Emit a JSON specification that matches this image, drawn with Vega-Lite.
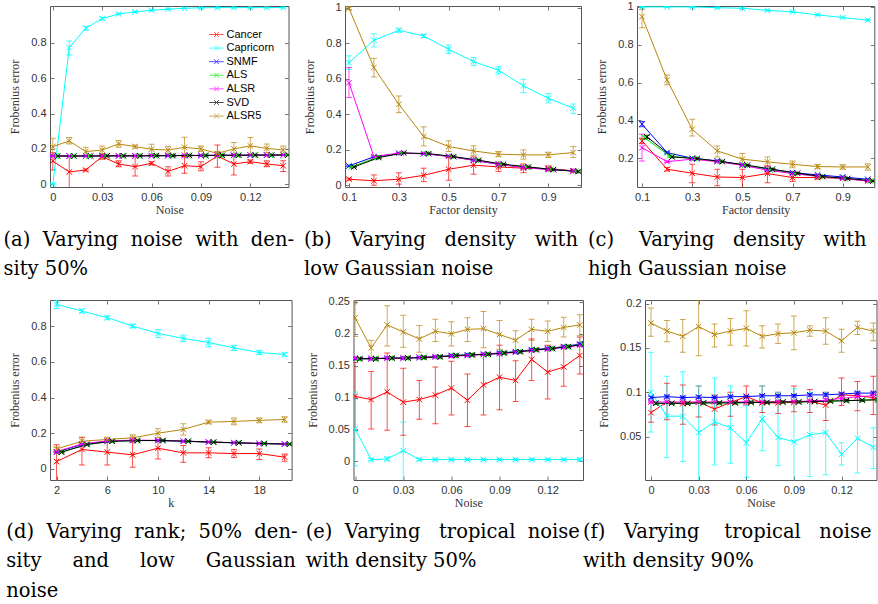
{
"$schema": "https://vega.github.io/schema/vega-lite/v6.json",
"background": "white",
"padding": {"left": 3, "top": 0, "right": 0, "bottom": 0},
"autosize": {"type": "pad"},
"datasets": {
"A": [
{"s":"Cancer","x":0,"y":0.132,"l":0.081,"h":0.179},{"s":"Cancer","x":0.01,"y":0.07,"l":-0.02,"h":0.16},{"s":"Cancer","x":0.02,"y":0.081,"l":0.076,"h":0.087},{"s":"Cancer","x":0.03,"y":0.156,"l":0.141,"h":0.171},{"s":"Cancer","x":0.04,"y":0.115,"l":0.099,"h":0.133},{"s":"Cancer","x":0.05,"y":0.1,"l":0.047,"h":0.156},{"s":"Cancer","x":0.06,"y":0.119,"l":0.109,"h":0.128},{"s":"Cancer","x":0.07,"y":0.073,"l":0.047,"h":0.1},{"s":"Cancer","x":0.08,"y":0.105,"l":0.062,"h":0.156},{"s":"Cancer","x":0.09,"y":0.1,"l":0.077,"h":0.128},{"s":"Cancer","x":0.1,"y":0.16,"l":0.096,"h":0.222},{"s":"Cancer","x":0.11,"y":0.115,"l":0.053,"h":0.171},{"s":"Cancer","x":0.12,"y":0.128,"l":0.119,"h":0.137},{"s":"Cancer","x":0.13,"y":0.115,"l":0.099,"h":0.133},{"s":"Cancer","x":0.14,"y":0.105,"l":0.072,"h":0.133},
{"s":"Capricorn","x":0,"y":0.0,"l":0.0,"h":0.004},{"s":"Capricorn","x":0.01,"y":0.772,"l":0.73,"h":0.81},{"s":"Capricorn","x":0.02,"y":0.881,"l":0.87,"h":0.892},{"s":"Capricorn","x":0.03,"y":0.936,"l":0.93,"h":0.942},{"s":"Capricorn","x":0.04,"y":0.962,"l":0.957,"h":0.967},{"s":"Capricorn","x":0.05,"y":0.974,"l":0.97,"h":0.978},{"s":"Capricorn","x":0.06,"y":0.983,"l":0.98,"h":0.986},{"s":"Capricorn","x":0.07,"y":0.989,"l":0.986,"h":0.992},{"s":"Capricorn","x":0.08,"y":0.994,"l":0.991,"h":0.997},{"s":"Capricorn","x":0.09,"y":0.997,"l":0.995,"h":0.999},{"s":"Capricorn","x":0.1,"y":0.998,"l":0.996,"h":1.0},{"s":"Capricorn","x":0.11,"y":0.998,"l":0.996,"h":1.0},{"s":"Capricorn","x":0.12,"y":0.998,"l":0.996,"h":1.0},{"s":"Capricorn","x":0.13,"y":0.998,"l":0.996,"h":1.0},{"s":"Capricorn","x":0.14,"y":0.998,"l":0.996,"h":1.0},
{"s":"SNMF","x":0,"y":0.16,"l":0.157,"h":0.163},{"s":"SNMF","x":0.01,"y":0.16,"l":0.157,"h":0.163},{"s":"SNMF","x":0.02,"y":0.16,"l":0.157,"h":0.163},{"s":"SNMF","x":0.03,"y":0.161,"l":0.158,"h":0.164},{"s":"SNMF","x":0.04,"y":0.161,"l":0.158,"h":0.164},{"s":"SNMF","x":0.05,"y":0.161,"l":0.158,"h":0.164},{"s":"SNMF","x":0.06,"y":0.162,"l":0.159,"h":0.165},{"s":"SNMF","x":0.07,"y":0.162,"l":0.159,"h":0.165},{"s":"SNMF","x":0.08,"y":0.163,"l":0.16,"h":0.166},{"s":"SNMF","x":0.09,"y":0.163,"l":0.16,"h":0.166},{"s":"SNMF","x":0.1,"y":0.164,"l":0.161,"h":0.167},{"s":"SNMF","x":0.11,"y":0.164,"l":0.161,"h":0.167},{"s":"SNMF","x":0.12,"y":0.165,"l":0.162,"h":0.168},{"s":"SNMF","x":0.13,"y":0.165,"l":0.162,"h":0.168},{"s":"SNMF","x":0.14,"y":0.166,"l":0.163,"h":0.169},
{"s":"ALS","x":0.002,"y":0.16,"l":0.157,"h":0.163},{"s":"ALS","x":0.012,"y":0.16,"l":0.157,"h":0.163},{"s":"ALS","x":0.022,"y":0.16,"l":0.157,"h":0.163},{"s":"ALS","x":0.032,"y":0.161,"l":0.158,"h":0.164},{"s":"ALS","x":0.042,"y":0.161,"l":0.158,"h":0.164},{"s":"ALS","x":0.052,"y":0.161,"l":0.158,"h":0.164},{"s":"ALS","x":0.062,"y":0.162,"l":0.159,"h":0.165},{"s":"ALS","x":0.072,"y":0.162,"l":0.159,"h":0.165},{"s":"ALS","x":0.082,"y":0.163,"l":0.16,"h":0.166},{"s":"ALS","x":0.092,"y":0.163,"l":0.16,"h":0.166},{"s":"ALS","x":0.102,"y":0.164,"l":0.161,"h":0.167},{"s":"ALS","x":0.112,"y":0.164,"l":0.161,"h":0.167},{"s":"ALS","x":0.122,"y":0.165,"l":0.162,"h":0.168},{"s":"ALS","x":0.132,"y":0.165,"l":0.162,"h":0.168},{"s":"ALS","x":0.142,"y":0.166,"l":0.163,"h":0.169},
{"s":"ALSR","x":0,"y":0.16,"l":0.157,"h":0.163},{"s":"ALSR","x":0.01,"y":0.16,"l":0.157,"h":0.163},{"s":"ALSR","x":0.02,"y":0.16,"l":0.157,"h":0.163},{"s":"ALSR","x":0.03,"y":0.161,"l":0.158,"h":0.164},{"s":"ALSR","x":0.04,"y":0.161,"l":0.158,"h":0.164},{"s":"ALSR","x":0.05,"y":0.161,"l":0.158,"h":0.164},{"s":"ALSR","x":0.06,"y":0.162,"l":0.159,"h":0.165},{"s":"ALSR","x":0.07,"y":0.162,"l":0.159,"h":0.165},{"s":"ALSR","x":0.08,"y":0.163,"l":0.16,"h":0.166},{"s":"ALSR","x":0.09,"y":0.163,"l":0.16,"h":0.166},{"s":"ALSR","x":0.1,"y":0.164,"l":0.161,"h":0.167},{"s":"ALSR","x":0.11,"y":0.164,"l":0.161,"h":0.167},{"s":"ALSR","x":0.12,"y":0.165,"l":0.162,"h":0.168},{"s":"ALSR","x":0.13,"y":0.165,"l":0.162,"h":0.168},{"s":"ALSR","x":0.14,"y":0.166,"l":0.163,"h":0.169},
{"s":"SVD","x":0.003,"y":0.16,"l":0.157,"h":0.163},{"s":"SVD","x":0.013,"y":0.16,"l":0.157,"h":0.163},{"s":"SVD","x":0.023,"y":0.16,"l":0.157,"h":0.163},{"s":"SVD","x":0.033,"y":0.161,"l":0.158,"h":0.164},{"s":"SVD","x":0.043,"y":0.161,"l":0.158,"h":0.164},{"s":"SVD","x":0.053,"y":0.161,"l":0.158,"h":0.164},{"s":"SVD","x":0.063,"y":0.162,"l":0.159,"h":0.165},{"s":"SVD","x":0.073,"y":0.162,"l":0.159,"h":0.165},{"s":"SVD","x":0.083,"y":0.163,"l":0.16,"h":0.166},{"s":"SVD","x":0.093,"y":0.163,"l":0.16,"h":0.166},{"s":"SVD","x":0.103,"y":0.164,"l":0.161,"h":0.167},{"s":"SVD","x":0.113,"y":0.164,"l":0.161,"h":0.167},{"s":"SVD","x":0.123,"y":0.165,"l":0.162,"h":0.168},{"s":"SVD","x":0.133,"y":0.165,"l":0.162,"h":0.168},{"s":"SVD","x":0.143,"y":0.166,"l":0.163,"h":0.169},
{"s":"ALSR5","x":0,"y":0.213,"l":0.166,"h":0.26},{"s":"ALSR5","x":0.01,"y":0.245,"l":0.228,"h":0.264},{"s":"ALSR5","x":0.02,"y":0.185,"l":0.16,"h":0.209},{"s":"ALSR5","x":0.03,"y":0.194,"l":0.172,"h":0.217},{"s":"ALSR5","x":0.04,"y":0.228,"l":0.209,"h":0.247},{"s":"ALSR5","x":0.05,"y":0.213,"l":0.204,"h":0.222},{"s":"ALSR5","x":0.06,"y":0.198,"l":0.17,"h":0.226},{"s":"ALSR5","x":0.07,"y":0.194,"l":0.175,"h":0.213},{"s":"ALSR5","x":0.08,"y":0.209,"l":0.156,"h":0.266},{"s":"ALSR5","x":0.09,"y":0.2,"l":0.185,"h":0.217},{"s":"ALSR5","x":0.1,"y":0.175,"l":0.16,"h":0.185},{"s":"ALSR5","x":0.11,"y":0.2,"l":0.162,"h":0.236},{"s":"ALSR5","x":0.12,"y":0.217,"l":0.17,"h":0.264},{"s":"ALSR5","x":0.13,"y":0.203,"l":0.179,"h":0.228},{"s":"ALSR5","x":0.14,"y":0.194,"l":0.172,"h":0.217}
],
"B": [
{"s":"Cancer","x":0.1,"y":0.034,"l":0.028,"h":0.04},{"s":"Cancer","x":0.2,"y":0.025,"l":0.0,"h":0.058},{"s":"Cancer","x":0.3,"y":0.034,"l":0.006,"h":0.07},{"s":"Cancer","x":0.4,"y":0.056,"l":0.02,"h":0.096},{"s":"Cancer","x":0.5,"y":0.09,"l":0.028,"h":0.156},{"s":"Cancer","x":0.6,"y":0.113,"l":0.062,"h":0.16},{"s":"Cancer","x":0.7,"y":0.103,"l":0.077,"h":0.13},{"s":"Cancer","x":0.8,"y":0.096,"l":0.071,"h":0.12},{"s":"Cancer","x":0.9,"y":0.094,"l":0.081,"h":0.109},{"s":"Cancer","x":1.0,"y":0.081,"l":0.071,"h":0.09},
{"s":"Capricorn","x":0.1,"y":0.691,"l":0.653,"h":0.729},{"s":"Capricorn","x":0.2,"y":0.817,"l":0.779,"h":0.854},{"s":"Capricorn","x":0.3,"y":0.873,"l":0.862,"h":0.884},{"s":"Capricorn","x":0.4,"y":0.841,"l":0.832,"h":0.85},{"s":"Capricorn","x":0.5,"y":0.766,"l":0.742,"h":0.79},{"s":"Capricorn","x":0.6,"y":0.697,"l":0.675,"h":0.719},{"s":"Capricorn","x":0.7,"y":0.648,"l":0.626,"h":0.67},{"s":"Capricorn","x":0.8,"y":0.56,"l":0.522,"h":0.597},{"s":"Capricorn","x":0.9,"y":0.49,"l":0.464,"h":0.516},{"s":"Capricorn","x":1.0,"y":0.434,"l":0.405,"h":0.458},
{"s":"SNMF","x":0.1,"y":0.109,"l":0.105,"h":0.113},{"s":"SNMF","x":0.2,"y":0.16,"l":0.156,"h":0.164},{"s":"SNMF","x":0.3,"y":0.18,"l":0.176,"h":0.184},{"s":"SNMF","x":0.4,"y":0.178,"l":0.174,"h":0.182},{"s":"SNMF","x":0.5,"y":0.163,"l":0.159,"h":0.167},{"s":"SNMF","x":0.6,"y":0.141,"l":0.137,"h":0.145},{"s":"SNMF","x":0.7,"y":0.118,"l":0.114,"h":0.122},{"s":"SNMF","x":0.8,"y":0.102,"l":0.098,"h":0.106},{"s":"SNMF","x":0.9,"y":0.09,"l":0.086,"h":0.094},{"s":"SNMF","x":1.0,"y":0.081,"l":0.077,"h":0.085},
{"s":"ALS","x":0.11,"y":0.103,"l":0.099,"h":0.107},{"s":"ALS","x":0.21,"y":0.156,"l":0.152,"h":0.16},{"s":"ALS","x":0.31,"y":0.18,"l":0.176,"h":0.184},{"s":"ALS","x":0.41,"y":0.178,"l":0.174,"h":0.182},{"s":"ALS","x":0.51,"y":0.162,"l":0.158,"h":0.166},{"s":"ALS","x":0.61,"y":0.141,"l":0.137,"h":0.145},{"s":"ALS","x":0.71,"y":0.118,"l":0.114,"h":0.122},{"s":"ALS","x":0.81,"y":0.102,"l":0.098,"h":0.106},{"s":"ALS","x":0.91,"y":0.089,"l":0.085,"h":0.093},{"s":"ALS","x":1.01,"y":0.079,"l":0.075,"h":0.083},
{"s":"ALSR","x":0.1,"y":0.578,"l":0.494,"h":0.663},{"s":"ALSR","x":0.2,"y":0.161,"l":0.157,"h":0.165},{"s":"ALSR","x":0.3,"y":0.18,"l":0.176,"h":0.184},{"s":"ALSR","x":0.4,"y":0.178,"l":0.174,"h":0.182},{"s":"ALSR","x":0.5,"y":0.163,"l":0.159,"h":0.167},{"s":"ALSR","x":0.6,"y":0.141,"l":0.137,"h":0.145},{"s":"ALSR","x":0.7,"y":0.118,"l":0.114,"h":0.122},{"s":"ALSR","x":0.8,"y":0.1,"l":0.095,"h":0.105},{"s":"ALSR","x":0.9,"y":0.088,"l":0.084,"h":0.092},{"s":"ALSR","x":1.0,"y":0.081,"l":0.077,"h":0.085},
{"s":"SVD","x":0.12,"y":0.103,"l":0.099,"h":0.107},{"s":"SVD","x":0.22,"y":0.156,"l":0.152,"h":0.16},{"s":"SVD","x":0.32,"y":0.182,"l":0.178,"h":0.186},{"s":"SVD","x":0.42,"y":0.178,"l":0.174,"h":0.182},{"s":"SVD","x":0.52,"y":0.161,"l":0.157,"h":0.165},{"s":"SVD","x":0.62,"y":0.141,"l":0.137,"h":0.145},{"s":"SVD","x":0.72,"y":0.118,"l":0.114,"h":0.122},{"s":"SVD","x":0.82,"y":0.103,"l":0.099,"h":0.107},{"s":"SVD","x":0.92,"y":0.088,"l":0.084,"h":0.092},{"s":"SVD","x":1.02,"y":0.077,"l":0.073,"h":0.081},
{"s":"ALSR5","x":0.1,"y":0.997,"l":0.99,"h":1.004},{"s":"ALSR5","x":0.2,"y":0.663,"l":0.61,"h":0.715},{"s":"ALSR5","x":0.3,"y":0.456,"l":0.409,"h":0.503},{"s":"ALSR5","x":0.4,"y":0.274,"l":0.222,"h":0.329},{"s":"ALSR5","x":0.5,"y":0.218,"l":0.19,"h":0.25},{"s":"ALSR5","x":0.6,"y":0.193,"l":0.169,"h":0.222},{"s":"ALSR5","x":0.7,"y":0.175,"l":0.16,"h":0.19},{"s":"ALSR5","x":0.8,"y":0.171,"l":0.147,"h":0.199},{"s":"ALSR5","x":0.9,"y":0.171,"l":0.156,"h":0.186},{"s":"ALSR5","x":1.0,"y":0.184,"l":0.156,"h":0.218}
],
"C": [
{"s":"Cancer","x":0.1,"y":0.292,"l":0.278,"h":0.306},{"s":"Cancer","x":0.2,"y":0.142,"l":0.133,"h":0.151},{"s":"Cancer","x":0.3,"y":0.121,"l":0.071,"h":0.168},{"s":"Cancer","x":0.4,"y":0.101,"l":0.054,"h":0.142},{"s":"Cancer","x":0.5,"y":0.098,"l":0.045,"h":0.142},{"s":"Cancer","x":0.6,"y":0.119,"l":0.071,"h":0.16},{"s":"Cancer","x":0.7,"y":0.098,"l":0.077,"h":0.119},{"s":"Cancer","x":0.8,"y":0.098,"l":0.089,"h":0.107},{"s":"Cancer","x":0.9,"y":0.094,"l":0.088,"h":0.1},{"s":"Cancer","x":1.0,"y":0.08,"l":0.075,"h":0.085},
{"s":"Capricorn","x":0.1,"y":1.0,"l":0.997,"h":1.003},{"s":"Capricorn","x":0.2,"y":1.0,"l":0.997,"h":1.003},{"s":"Capricorn","x":0.3,"y":1.0,"l":0.997,"h":1.003},{"s":"Capricorn","x":0.4,"y":0.996,"l":0.993,"h":0.999},{"s":"Capricorn","x":0.5,"y":0.993,"l":0.99,"h":0.996},{"s":"Capricorn","x":0.6,"y":0.982,"l":0.979,"h":0.985},{"s":"Capricorn","x":0.7,"y":0.974,"l":0.971,"h":0.977},{"s":"Capricorn","x":0.8,"y":0.958,"l":0.955,"h":0.961},{"s":"Capricorn","x":0.9,"y":0.944,"l":0.941,"h":0.947},{"s":"Capricorn","x":1.0,"y":0.93,"l":0.927,"h":0.933},
{"s":"SNMF","x":0.1,"y":0.38,"l":0.366,"h":0.394},{"s":"SNMF","x":0.2,"y":0.23,"l":0.226,"h":0.234},{"s":"SNMF","x":0.3,"y":0.2,"l":0.196,"h":0.204},{"s":"SNMF","x":0.4,"y":0.186,"l":0.182,"h":0.19},{"s":"SNMF","x":0.5,"y":0.165,"l":0.161,"h":0.169},{"s":"SNMF","x":0.6,"y":0.142,"l":0.138,"h":0.146},{"s":"SNMF","x":0.7,"y":0.124,"l":0.12,"h":0.128},{"s":"SNMF","x":0.8,"y":0.112,"l":0.108,"h":0.116},{"s":"SNMF","x":0.9,"y":0.101,"l":0.097,"h":0.105},{"s":"SNMF","x":1.0,"y":0.089,"l":0.085,"h":0.093},
{"s":"ALS","x":0.11,"y":0.309,"l":0.301,"h":0.317},{"s":"ALS","x":0.21,"y":0.212,"l":0.208,"h":0.216},{"s":"ALS","x":0.31,"y":0.198,"l":0.194,"h":0.202},{"s":"ALS","x":0.41,"y":0.182,"l":0.178,"h":0.186},{"s":"ALS","x":0.51,"y":0.163,"l":0.159,"h":0.167},{"s":"ALS","x":0.61,"y":0.138,"l":0.134,"h":0.142},{"s":"ALS","x":0.71,"y":0.119,"l":0.115,"h":0.123},{"s":"ALS","x":0.81,"y":0.103,"l":0.099,"h":0.107},{"s":"ALS","x":0.91,"y":0.093,"l":0.089,"h":0.097},{"s":"ALS","x":1.01,"y":0.08,"l":0.076,"h":0.084},
{"s":"ALSR","x":0.1,"y":0.256,"l":0.186,"h":0.327},{"s":"ALSR","x":0.2,"y":0.182,"l":0.178,"h":0.186},{"s":"ALSR","x":0.3,"y":0.195,"l":0.191,"h":0.199},{"s":"ALSR","x":0.4,"y":0.182,"l":0.178,"h":0.186},{"s":"ALSR","x":0.5,"y":0.163,"l":0.159,"h":0.167},{"s":"ALSR","x":0.6,"y":0.137,"l":0.133,"h":0.141},{"s":"ALSR","x":0.7,"y":0.119,"l":0.115,"h":0.123},{"s":"ALSR","x":0.8,"y":0.105,"l":0.101,"h":0.109},{"s":"ALSR","x":0.9,"y":0.093,"l":0.089,"h":0.097},{"s":"ALSR","x":1.0,"y":0.08,"l":0.076,"h":0.084},
{"s":"SVD","x":0.12,"y":0.313,"l":0.305,"h":0.321},{"s":"SVD","x":0.22,"y":0.207,"l":0.203,"h":0.211},{"s":"SVD","x":0.32,"y":0.198,"l":0.194,"h":0.202},{"s":"SVD","x":0.42,"y":0.182,"l":0.178,"h":0.186},{"s":"SVD","x":0.52,"y":0.163,"l":0.159,"h":0.167},{"s":"SVD","x":0.62,"y":0.142,"l":0.138,"h":0.146},{"s":"SVD","x":0.72,"y":0.121,"l":0.117,"h":0.125},{"s":"SVD","x":0.82,"y":0.103,"l":0.099,"h":0.107},{"s":"SVD","x":0.92,"y":0.093,"l":0.089,"h":0.097},{"s":"SVD","x":1.02,"y":0.08,"l":0.076,"h":0.084},
{"s":"ALSR5","x":0.1,"y":0.949,"l":0.89,"h":0.988},{"s":"ALSR5","x":0.2,"y":0.614,"l":0.588,"h":0.64},{"s":"ALSR5","x":0.3,"y":0.353,"l":0.318,"h":0.406},{"s":"ALSR5","x":0.4,"y":0.239,"l":0.207,"h":0.265},{"s":"ALSR5","x":0.5,"y":0.195,"l":0.165,"h":0.225},{"s":"ALSR5","x":0.6,"y":0.181,"l":0.156,"h":0.206},{"s":"ALSR5","x":0.7,"y":0.168,"l":0.15,"h":0.186},{"s":"ALSR5","x":0.8,"y":0.156,"l":0.145,"h":0.167},{"s":"ALSR5","x":0.9,"y":0.154,"l":0.142,"h":0.165},{"s":"ALSR5","x":1.0,"y":0.154,"l":0.137,"h":0.171}
],
"D": [
{"s":"Cancer","x":2,"y":0.041,"l":-0.075,"h":0.135},{"s":"Cancer","x":4,"y":0.109,"l":0.022,"h":0.178},{"s":"Cancer","x":6,"y":0.094,"l":0.022,"h":0.154},{"s":"Cancer","x":8,"y":0.079,"l":0.009,"h":0.15},{"s":"Cancer","x":10,"y":0.116,"l":0.056,"h":0.165},{"s":"Cancer","x":12,"y":0.09,"l":0.037,"h":0.131},{"s":"Cancer","x":14,"y":0.09,"l":0.062,"h":0.118},{"s":"Cancer","x":16,"y":0.086,"l":0.064,"h":0.109},{"s":"Cancer","x":18,"y":0.086,"l":0.053,"h":0.112},{"s":"Cancer","x":20,"y":0.066,"l":0.043,"h":0.084},
{"s":"Capricorn","x":2,"y":0.922,"l":0.899,"h":0.946},{"s":"Capricorn","x":4,"y":0.884,"l":0.873,"h":0.895},{"s":"Capricorn","x":6,"y":0.847,"l":0.836,"h":0.858},{"s":"Capricorn","x":8,"y":0.8,"l":0.79,"h":0.81},{"s":"Capricorn","x":10,"y":0.759,"l":0.736,"h":0.781},{"s":"Capricorn","x":12,"y":0.731,"l":0.712,"h":0.75},{"s":"Capricorn","x":14,"y":0.708,"l":0.684,"h":0.732},{"s":"Capricorn","x":16,"y":0.678,"l":0.663,"h":0.693},{"s":"Capricorn","x":18,"y":0.652,"l":0.641,"h":0.663},{"s":"Capricorn","x":20,"y":0.641,"l":0.633,"h":0.649},
{"s":"SNMF","x":2,"y":0.094,"l":0.09,"h":0.098},{"s":"SNMF","x":4,"y":0.137,"l":0.133,"h":0.141},{"s":"SNMF","x":6,"y":0.155,"l":0.151,"h":0.159},{"s":"SNMF","x":8,"y":0.159,"l":0.155,"h":0.163},{"s":"SNMF","x":10,"y":0.159,"l":0.155,"h":0.163},{"s":"SNMF","x":12,"y":0.155,"l":0.151,"h":0.159},{"s":"SNMF","x":14,"y":0.15,"l":0.146,"h":0.154},{"s":"SNMF","x":16,"y":0.146,"l":0.142,"h":0.15},{"s":"SNMF","x":18,"y":0.142,"l":0.138,"h":0.146},{"s":"SNMF","x":20,"y":0.139,"l":0.135,"h":0.143},
{"s":"ALS","x":2.35,"y":0.094,"l":0.09,"h":0.098},{"s":"ALS","x":4.35,"y":0.137,"l":0.133,"h":0.141},{"s":"ALS","x":6.35,"y":0.155,"l":0.151,"h":0.159},{"s":"ALS","x":8.35,"y":0.159,"l":0.155,"h":0.163},{"s":"ALS","x":10.35,"y":0.159,"l":0.155,"h":0.163},{"s":"ALS","x":12.35,"y":0.155,"l":0.151,"h":0.159},{"s":"ALS","x":14.35,"y":0.15,"l":0.146,"h":0.154},{"s":"ALS","x":16.35,"y":0.146,"l":0.142,"h":0.15},{"s":"ALS","x":18.35,"y":0.142,"l":0.138,"h":0.146},{"s":"ALS","x":20.35,"y":0.139,"l":0.135,"h":0.143},
{"s":"ALSR","x":2,"y":0.097,"l":0.093,"h":0.101},{"s":"ALSR","x":4,"y":0.14,"l":0.136,"h":0.144},{"s":"ALSR","x":6,"y":0.157,"l":0.153,"h":0.161},{"s":"ALSR","x":8,"y":0.161,"l":0.157,"h":0.165},{"s":"ALSR","x":10,"y":0.16,"l":0.156,"h":0.164},{"s":"ALSR","x":12,"y":0.156,"l":0.152,"h":0.16},{"s":"ALSR","x":14,"y":0.151,"l":0.147,"h":0.155},{"s":"ALSR","x":16,"y":0.147,"l":0.143,"h":0.151},{"s":"ALSR","x":18,"y":0.143,"l":0.139,"h":0.147},{"s":"ALSR","x":20,"y":0.14,"l":0.136,"h":0.144},
{"s":"SVD","x":2.4,"y":0.094,"l":0.09,"h":0.098},{"s":"SVD","x":4.4,"y":0.137,"l":0.133,"h":0.141},{"s":"SVD","x":6.4,"y":0.155,"l":0.151,"h":0.159},{"s":"SVD","x":8.4,"y":0.159,"l":0.155,"h":0.163},{"s":"SVD","x":10.4,"y":0.159,"l":0.155,"h":0.163},{"s":"SVD","x":12.4,"y":0.155,"l":0.151,"h":0.159},{"s":"SVD","x":14.4,"y":0.15,"l":0.146,"h":0.154},{"s":"SVD","x":16.4,"y":0.146,"l":0.142,"h":0.15},{"s":"SVD","x":18.4,"y":0.142,"l":0.138,"h":0.146},{"s":"SVD","x":20.4,"y":0.139,"l":0.135,"h":0.143},
{"s":"ALSR5","x":2,"y":0.112,"l":0.103,"h":0.122},{"s":"ALSR5","x":4,"y":0.155,"l":0.131,"h":0.178},{"s":"ALSR5","x":6,"y":0.165,"l":0.154,"h":0.178},{"s":"ALSR5","x":8,"y":0.174,"l":0.157,"h":0.191},{"s":"ALSR5","x":10,"y":0.2,"l":0.176,"h":0.225},{"s":"ALSR5","x":12,"y":0.221,"l":0.19,"h":0.253},{"s":"ALSR5","x":14,"y":0.262,"l":0.253,"h":0.272},{"s":"ALSR5","x":16,"y":0.266,"l":0.247,"h":0.285},{"s":"ALSR5","x":18,"y":0.272,"l":0.259,"h":0.285},{"s":"ALSR5","x":20,"y":0.277,"l":0.262,"h":0.292}
],
"E": [
{"s":"Cancer","x":0,"y":0.102,"l":0.05,"h":0.155},{"s":"Cancer","x":0.01,"y":0.097,"l":0.051,"h":0.141},{"s":"Cancer","x":0.02,"y":0.109,"l":0.049,"h":0.17},{"s":"Cancer","x":0.03,"y":0.093,"l":0.041,"h":0.146},{"s":"Cancer","x":0.04,"y":0.097,"l":0.066,"h":0.127},{"s":"Cancer","x":0.05,"y":0.104,"l":0.059,"h":0.148},{"s":"Cancer","x":0.06,"y":0.115,"l":0.073,"h":0.157},{"s":"Cancer","x":0.07,"y":0.096,"l":0.055,"h":0.137},{"s":"Cancer","x":0.08,"y":0.12,"l":0.073,"h":0.166},{"s":"Cancer","x":0.09,"y":0.132,"l":0.081,"h":0.182},{"s":"Cancer","x":0.1,"y":0.127,"l":0.094,"h":0.158},{"s":"Cancer","x":0.11,"y":0.16,"l":0.127,"h":0.192},{"s":"Cancer","x":0.12,"y":0.14,"l":0.098,"h":0.182},{"s":"Cancer","x":0.13,"y":0.148,"l":0.118,"h":0.182},{"s":"Cancer","x":0.14,"y":0.166,"l":0.137,"h":0.195},
{"s":"Capricorn","x":0,"y":0.051,"l":-0.007,"h":0.109},{"s":"Capricorn","x":0.01,"y":0.003,"l":0.001,"h":0.005},{"s":"Capricorn","x":0.02,"y":0.004,"l":0.001,"h":0.007},{"s":"Capricorn","x":0.03,"y":0.017,"l":-0.03,"h":0.062},{"s":"Capricorn","x":0.04,"y":0.003,"l":0.001,"h":0.005},{"s":"Capricorn","x":0.05,"y":0.003,"l":0.001,"h":0.005},{"s":"Capricorn","x":0.06,"y":0.003,"l":0.001,"h":0.005},{"s":"Capricorn","x":0.07,"y":0.003,"l":0.001,"h":0.005},{"s":"Capricorn","x":0.08,"y":0.003,"l":0.001,"h":0.005},{"s":"Capricorn","x":0.09,"y":0.003,"l":0.001,"h":0.005},{"s":"Capricorn","x":0.1,"y":0.003,"l":0.001,"h":0.005},{"s":"Capricorn","x":0.11,"y":0.003,"l":0.001,"h":0.005},{"s":"Capricorn","x":0.12,"y":0.003,"l":0.001,"h":0.005},{"s":"Capricorn","x":0.13,"y":0.003,"l":0.001,"h":0.005},{"s":"Capricorn","x":0.14,"y":0.003,"l":0.001,"h":0.005},
{"s":"SNMF","x":0,"y":0.161,"l":0.159,"h":0.163},{"s":"SNMF","x":0.01,"y":0.161,"l":0.159,"h":0.163},{"s":"SNMF","x":0.02,"y":0.162,"l":0.16,"h":0.164},{"s":"SNMF","x":0.03,"y":0.162,"l":0.16,"h":0.164},{"s":"SNMF","x":0.04,"y":0.163,"l":0.161,"h":0.165},{"s":"SNMF","x":0.05,"y":0.164,"l":0.162,"h":0.166},{"s":"SNMF","x":0.06,"y":0.166,"l":0.164,"h":0.168},{"s":"SNMF","x":0.07,"y":0.167,"l":0.165,"h":0.169},{"s":"SNMF","x":0.08,"y":0.168,"l":0.166,"h":0.17},{"s":"SNMF","x":0.09,"y":0.17,"l":0.168,"h":0.172},{"s":"SNMF","x":0.1,"y":0.172,"l":0.17,"h":0.174},{"s":"SNMF","x":0.11,"y":0.175,"l":0.173,"h":0.177},{"s":"SNMF","x":0.12,"y":0.177,"l":0.175,"h":0.179},{"s":"SNMF","x":0.13,"y":0.18,"l":0.178,"h":0.182},{"s":"SNMF","x":0.14,"y":0.184,"l":0.182,"h":0.186},
{"s":"ALS","x":0.002,"y":0.161,"l":0.159,"h":0.163},{"s":"ALS","x":0.012,"y":0.161,"l":0.159,"h":0.163},{"s":"ALS","x":0.022,"y":0.162,"l":0.16,"h":0.164},{"s":"ALS","x":0.032,"y":0.162,"l":0.16,"h":0.164},{"s":"ALS","x":0.042,"y":0.163,"l":0.161,"h":0.165},{"s":"ALS","x":0.052,"y":0.164,"l":0.162,"h":0.166},{"s":"ALS","x":0.062,"y":0.166,"l":0.164,"h":0.168},{"s":"ALS","x":0.072,"y":0.167,"l":0.165,"h":0.169},{"s":"ALS","x":0.082,"y":0.168,"l":0.166,"h":0.17},{"s":"ALS","x":0.092,"y":0.17,"l":0.168,"h":0.172},{"s":"ALS","x":0.102,"y":0.172,"l":0.17,"h":0.174},{"s":"ALS","x":0.112,"y":0.175,"l":0.173,"h":0.177},{"s":"ALS","x":0.122,"y":0.177,"l":0.175,"h":0.179},{"s":"ALS","x":0.132,"y":0.18,"l":0.178,"h":0.182},{"s":"ALS","x":0.142,"y":0.184,"l":0.182,"h":0.186},
{"s":"ALSR","x":0,"y":0.162,"l":0.16,"h":0.164},{"s":"ALSR","x":0.01,"y":0.161,"l":0.159,"h":0.163},{"s":"ALSR","x":0.02,"y":0.162,"l":0.16,"h":0.164},{"s":"ALSR","x":0.03,"y":0.162,"l":0.16,"h":0.164},{"s":"ALSR","x":0.04,"y":0.163,"l":0.161,"h":0.165},{"s":"ALSR","x":0.05,"y":0.164,"l":0.162,"h":0.166},{"s":"ALSR","x":0.06,"y":0.165,"l":0.163,"h":0.167},{"s":"ALSR","x":0.07,"y":0.166,"l":0.164,"h":0.168},{"s":"ALSR","x":0.08,"y":0.168,"l":0.166,"h":0.17},{"s":"ALSR","x":0.09,"y":0.169,"l":0.167,"h":0.171},{"s":"ALSR","x":0.1,"y":0.171,"l":0.169,"h":0.173},{"s":"ALSR","x":0.11,"y":0.174,"l":0.172,"h":0.176},{"s":"ALSR","x":0.12,"y":0.176,"l":0.174,"h":0.178},{"s":"ALSR","x":0.13,"y":0.179,"l":0.177,"h":0.181},{"s":"ALSR","x":0.14,"y":0.182,"l":0.18,"h":0.184},
{"s":"SVD","x":0.003,"y":0.161,"l":0.159,"h":0.163},{"s":"SVD","x":0.013,"y":0.161,"l":0.159,"h":0.163},{"s":"SVD","x":0.023,"y":0.162,"l":0.16,"h":0.164},{"s":"SVD","x":0.033,"y":0.162,"l":0.16,"h":0.164},{"s":"SVD","x":0.043,"y":0.163,"l":0.161,"h":0.165},{"s":"SVD","x":0.053,"y":0.164,"l":0.162,"h":0.166},{"s":"SVD","x":0.063,"y":0.166,"l":0.164,"h":0.168},{"s":"SVD","x":0.073,"y":0.167,"l":0.165,"h":0.169},{"s":"SVD","x":0.083,"y":0.168,"l":0.166,"h":0.17},{"s":"SVD","x":0.093,"y":0.17,"l":0.168,"h":0.172},{"s":"SVD","x":0.103,"y":0.172,"l":0.17,"h":0.174},{"s":"SVD","x":0.113,"y":0.175,"l":0.173,"h":0.177},{"s":"SVD","x":0.123,"y":0.177,"l":0.175,"h":0.179},{"s":"SVD","x":0.133,"y":0.18,"l":0.178,"h":0.182},{"s":"SVD","x":0.143,"y":0.184,"l":0.182,"h":0.186},
{"s":"ALSR5","x":0,"y":0.225,"l":0.196,"h":0.253},{"s":"ALSR5","x":0.01,"y":0.178,"l":0.161,"h":0.19},{"s":"ALSR5","x":0.02,"y":0.214,"l":0.181,"h":0.244},{"s":"ALSR5","x":0.03,"y":0.203,"l":0.179,"h":0.229},{"s":"ALSR5","x":0.04,"y":0.192,"l":0.171,"h":0.213},{"s":"ALSR5","x":0.05,"y":0.204,"l":0.188,"h":0.223},{"s":"ALSR5","x":0.06,"y":0.2,"l":0.181,"h":0.219},{"s":"ALSR5","x":0.07,"y":0.207,"l":0.188,"h":0.225},{"s":"ALSR5","x":0.08,"y":0.208,"l":0.178,"h":0.235},{"s":"ALSR5","x":0.09,"y":0.199,"l":0.176,"h":0.221},{"s":"ALSR5","x":0.1,"y":0.19,"l":0.174,"h":0.205},{"s":"ALSR5","x":0.11,"y":0.207,"l":0.19,"h":0.223},{"s":"ALSR5","x":0.12,"y":0.204,"l":0.188,"h":0.22},{"s":"ALSR5","x":0.13,"y":0.21,"l":0.195,"h":0.226},{"s":"ALSR5","x":0.14,"y":0.214,"l":0.197,"h":0.23}
],
"F": [
{"s":"Cancer","x":0,"y":0.077,"l":0.066,"h":0.089},{"s":"Cancer","x":0.01,"y":0.089,"l":0.069,"h":0.11},{"s":"Cancer","x":0.02,"y":0.087,"l":0.064,"h":0.108},{"s":"Cancer","x":0.03,"y":0.089,"l":0.072,"h":0.107},{"s":"Cancer","x":0.04,"y":0.081,"l":0.063,"h":0.097},{"s":"Cancer","x":0.05,"y":0.0885,"l":0.073,"h":0.1},{"s":"Cancer","x":0.06,"y":0.095,"l":0.0855,"h":0.107},{"s":"Cancer","x":0.07,"y":0.088,"l":0.077,"h":0.107},{"s":"Cancer","x":0.08,"y":0.088,"l":0.076,"h":0.1},{"s":"Cancer","x":0.09,"y":0.0885,"l":0.078,"h":0.107},{"s":"Cancer","x":0.1,"y":0.09,"l":0.077,"h":0.103},{"s":"Cancer","x":0.11,"y":0.0855,"l":0.068,"h":0.1},{"s":"Cancer","x":0.12,"y":0.097,"l":0.085,"h":0.116},{"s":"Cancer","x":0.13,"y":0.096,"l":0.079,"h":0.112},{"s":"Cancer","x":0.14,"y":0.094,"l":0.075,"h":0.118},
{"s":"Capricorn","x":0,"y":0.1,"l":0.055,"h":0.145},{"s":"Capricorn","x":0.01,"y":0.073,"l":0.026,"h":0.118},{"s":"Capricorn","x":0.02,"y":0.073,"l":0.022,"h":0.123},{"s":"Capricorn","x":0.03,"y":0.0545,"l":0.0,"h":0.107},{"s":"Capricorn","x":0.04,"y":0.0665,"l":0.018,"h":0.116},{"s":"Capricorn","x":0.05,"y":0.06,"l":0.02,"h":0.107},{"s":"Capricorn","x":0.06,"y":0.043,"l":0.004,"h":0.085},{"s":"Capricorn","x":0.07,"y":0.07,"l":0.034,"h":0.107},{"s":"Capricorn","x":0.08,"y":0.049,"l":0.017,"h":0.1},{"s":"Capricorn","x":0.09,"y":0.044,"l":0.0,"h":0.104},{"s":"Capricorn","x":0.1,"y":0.052,"l":0.005,"h":0.1},{"s":"Capricorn","x":0.11,"y":0.0545,"l":0.007,"h":0.1},{"s":"Capricorn","x":0.12,"y":0.03,"l":0.018,"h":0.043},{"s":"Capricorn","x":0.13,"y":0.048,"l":0.009,"h":0.1},{"s":"Capricorn","x":0.14,"y":0.038,"l":0.014,"h":0.06},
{"s":"SNMF","x":0,"y":0.094,"l":0.0925,"h":0.0955},{"s":"SNMF","x":0.01,"y":0.095,"l":0.0935,"h":0.0965},{"s":"SNMF","x":0.02,"y":0.094,"l":0.0925,"h":0.0955},{"s":"SNMF","x":0.03,"y":0.0945,"l":0.093,"h":0.096},{"s":"SNMF","x":0.04,"y":0.094,"l":0.0925,"h":0.0955},{"s":"SNMF","x":0.05,"y":0.095,"l":0.0935,"h":0.0965},{"s":"SNMF","x":0.06,"y":0.095,"l":0.0935,"h":0.0965},{"s":"SNMF","x":0.07,"y":0.096,"l":0.0945,"h":0.0975},{"s":"SNMF","x":0.08,"y":0.096,"l":0.0945,"h":0.0975},{"s":"SNMF","x":0.09,"y":0.096,"l":0.0945,"h":0.0975},{"s":"SNMF","x":0.1,"y":0.097,"l":0.0955,"h":0.0985},{"s":"SNMF","x":0.11,"y":0.097,"l":0.0955,"h":0.0985},{"s":"SNMF","x":0.12,"y":0.098,"l":0.0965,"h":0.0995},{"s":"SNMF","x":0.13,"y":0.099,"l":0.0975,"h":0.1005},{"s":"SNMF","x":0.14,"y":0.099,"l":0.0975,"h":0.1005},
{"s":"ALS","x":0.003,"y":0.0875,"l":0.0863,"h":0.0887},{"s":"ALS","x":0.013,"y":0.0875,"l":0.0863,"h":0.0887},{"s":"ALS","x":0.023,"y":0.0875,"l":0.0863,"h":0.0887},{"s":"ALS","x":0.033,"y":0.088,"l":0.0868,"h":0.0892},{"s":"ALS","x":0.043,"y":0.088,"l":0.0868,"h":0.0892},{"s":"ALS","x":0.053,"y":0.088,"l":0.0868,"h":0.0892},{"s":"ALS","x":0.063,"y":0.0885,"l":0.0873,"h":0.0897},{"s":"ALS","x":0.073,"y":0.0885,"l":0.0873,"h":0.0897},{"s":"ALS","x":0.083,"y":0.089,"l":0.0878,"h":0.0902},{"s":"ALS","x":0.093,"y":0.089,"l":0.0878,"h":0.0902},{"s":"ALS","x":0.103,"y":0.0895,"l":0.0883,"h":0.0907},{"s":"ALS","x":0.113,"y":0.09,"l":0.0888,"h":0.0912},{"s":"ALS","x":0.123,"y":0.0905,"l":0.0893,"h":0.0917},{"s":"ALS","x":0.133,"y":0.091,"l":0.0898,"h":0.0922},{"s":"ALS","x":0.143,"y":0.0915,"l":0.0903,"h":0.0927},
{"s":"ALSR","x":0,"y":0.089,"l":0.0878,"h":0.0902},{"s":"ALSR","x":0.01,"y":0.089,"l":0.0878,"h":0.0902},{"s":"ALSR","x":0.02,"y":0.089,"l":0.0878,"h":0.0902},{"s":"ALSR","x":0.03,"y":0.089,"l":0.0878,"h":0.0902},{"s":"ALSR","x":0.04,"y":0.089,"l":0.0878,"h":0.0902},{"s":"ALSR","x":0.05,"y":0.089,"l":0.0878,"h":0.0902},{"s":"ALSR","x":0.06,"y":0.089,"l":0.0878,"h":0.0902},{"s":"ALSR","x":0.07,"y":0.089,"l":0.0878,"h":0.0902},{"s":"ALSR","x":0.08,"y":0.0895,"l":0.0883,"h":0.0907},{"s":"ALSR","x":0.09,"y":0.0895,"l":0.0883,"h":0.0907},{"s":"ALSR","x":0.1,"y":0.09,"l":0.0888,"h":0.0912},{"s":"ALSR","x":0.11,"y":0.091,"l":0.0895,"h":0.093},{"s":"ALSR","x":0.12,"y":0.093,"l":0.09,"h":0.097},{"s":"ALSR","x":0.13,"y":0.095,"l":0.091,"h":0.099},{"s":"ALSR","x":0.14,"y":0.096,"l":0.092,"h":0.1},
{"s":"SVD","x":0.003,"y":0.0875,"l":0.0863,"h":0.0887},{"s":"SVD","x":0.013,"y":0.0875,"l":0.0863,"h":0.0887},{"s":"SVD","x":0.023,"y":0.0875,"l":0.0863,"h":0.0887},{"s":"SVD","x":0.033,"y":0.088,"l":0.0868,"h":0.0892},{"s":"SVD","x":0.043,"y":0.088,"l":0.0868,"h":0.0892},{"s":"SVD","x":0.053,"y":0.088,"l":0.0868,"h":0.0892},{"s":"SVD","x":0.063,"y":0.0885,"l":0.0873,"h":0.0897},{"s":"SVD","x":0.073,"y":0.0885,"l":0.0873,"h":0.0897},{"s":"SVD","x":0.083,"y":0.089,"l":0.0878,"h":0.0902},{"s":"SVD","x":0.093,"y":0.089,"l":0.0878,"h":0.0902},{"s":"SVD","x":0.103,"y":0.0895,"l":0.0883,"h":0.0907},{"s":"SVD","x":0.113,"y":0.09,"l":0.0888,"h":0.0912},{"s":"SVD","x":0.123,"y":0.0905,"l":0.0893,"h":0.0917},{"s":"SVD","x":0.133,"y":0.091,"l":0.0898,"h":0.0922},{"s":"SVD","x":0.143,"y":0.0915,"l":0.0903,"h":0.0927},
{"s":"ALSR5","x":0,"y":0.178,"l":0.163,"h":0.195},{"s":"ALSR5","x":0.01,"y":0.169,"l":0.157,"h":0.181},{"s":"ALSR5","x":0.02,"y":0.163,"l":0.145,"h":0.182},{"s":"ALSR5","x":0.03,"y":0.174,"l":0.141,"h":0.204},{"s":"ALSR5","x":0.04,"y":0.165,"l":0.151,"h":0.177},{"s":"ALSR5","x":0.05,"y":0.169,"l":0.153,"h":0.183},{"s":"ALSR5","x":0.06,"y":0.172,"l":0.152,"h":0.192},{"s":"ALSR5","x":0.07,"y":0.163,"l":0.15,"h":0.175},{"s":"ALSR5","x":0.08,"y":0.166,"l":0.155,"h":0.177},{"s":"ALSR5","x":0.09,"y":0.167,"l":0.148,"h":0.186},{"s":"ALSR5","x":0.1,"y":0.17,"l":0.163,"h":0.175},{"s":"ALSR5","x":0.11,"y":0.169,"l":0.154,"h":0.184},{"s":"ALSR5","x":0.12,"y":0.158,"l":0.145,"h":0.171},{"s":"ALSR5","x":0.13,"y":0.173,"l":0.165,"h":0.18},{"s":"ALSR5","x":0.14,"y":0.169,"l":0.158,"h":0.178}
]
},
"spacing": 16,
"resolve": {"scale": {"color": "independent"}, "legend": {"color": "independent"}},
"vconcat": [
{"hconcat": [
{"width": 238.5, "height": 181, "data": {"name": "A"},
 "title": {"text": ["(a)\u00a0 Varying\u00a0 noise\u00a0 with\u00a0 den-", "sity 50%"], "dx": -46.5, "offset": 15.5},
 "resolve": {"axis": {"x": "independent", "y": "independent"}},
 "layer": [
  {"mark": {"type": "rule", "clip": true, "opacity": 0.7, "strokeWidth": 1}, "encoding": {"x": {"field": "x", "type": "quantitative", "scale": {"domain": [-0.0017, 0.1432], "nice": false, "zero": false}, "axis": null}, "y": {"field": "l", "type": "quantitative", "scale": {"domain": [-0.015, 1.007], "nice": false, "zero": false}, "axis": null}, "y2": {"field": "h"}, "color": {"field": "s", "type": "nominal", "scale": {"domain": ["Cancer","Capricorn","SNMF","ALS","ALSR","SVD","ALSR5"], "range": ["#ff0000","#00ffff","#0000ff","#00ee00","#ff00ff","#000000","#b8860b"]}}}},
  {"mark": {"type": "tick", "orient": "horizontal", "size": 6, "thickness": 1, "clip": true, "opacity": 0.7}, "encoding": {"x": {"field": "x", "type": "quantitative", "axis": null}, "y": {"field": "l", "type": "quantitative", "axis": null}, "color": {"field": "s", "type": "nominal"}}},
  {"mark": {"type": "tick", "orient": "horizontal", "size": 6, "thickness": 1, "clip": true, "opacity": 0.7}, "encoding": {"x": {"field": "x", "type": "quantitative", "axis": null}, "y": {"field": "h", "type": "quantitative", "axis": null}, "color": {"field": "s", "type": "nominal"}}},
  {"mark": {"type": "line", "clip": true, "strokeWidth": 1}, "encoding": {"x": {"field": "x", "type": "quantitative", "axis": {"title": "Noise", "values": [0, 0.03, 0.06, 0.09, 0.12], "format": "~g"}}, "y": {"field": "y", "type": "quantitative", "axis": {"title": "Frobenius error", "values": [0, 0.2, 0.4, 0.6, 0.8], "format": "~g"}}, "color": {"field": "s", "type": "nominal", "legend": {"orient": "none", "legendX": 160, "legendY": 22, "title": null, "symbolType": "M-1.2,0L1.2,0M-0.4,-0.4L0.4,0.4M-0.4,0.4L0.4,-0.4", "symbolSize": 144, "symbolStrokeWidth": 1, "labelFont": "Liberation Sans", "labelFontSize": 11, "labelColor": "black", "labelOffset": 3.5, "rowPadding": 1.6, "padding": 0}}}},
  {"mark": {"type": "point", "shape": "M-1,-1L1,1M-1,1L1,-1", "size": 30, "filled": false, "strokeWidth": 1, "opacity": 1, "clip": true}, "encoding": {"x": {"field": "x", "type": "quantitative", "axis": {"orient": "top", "title": null, "labels": false, "values": [0, 0.03, 0.06, 0.09, 0.12]}}, "y": {"field": "y", "type": "quantitative", "axis": {"orient": "right", "title": null, "labels": false, "values": [0, 0.2, 0.4, 0.6, 0.8]}}, "color": {"field": "s", "type": "nominal"}}}
 ]},
{"width": 236, "height": 181, "data": {"name": "B"},
 "title": {"text": ["(b) \u00a0\u00a0Varying \u00a0\u00a0density \u00a0\u00a0with", "low Gaussian noise"], "dx": -41, "offset": 15.5},
 "resolve": {"axis": {"x": "independent", "y": "independent"}},
 "layer": [
  {"mark": {"type": "rule", "clip": true, "opacity": 0.7, "strokeWidth": 1}, "encoding": {"x": {"field": "x", "type": "quantitative", "scale": {"domain": [0.084, 1.031], "nice": false, "zero": false}, "axis": null}, "y": {"field": "l", "type": "quantitative", "scale": {"domain": [-0.01, 1.01], "nice": false, "zero": false}, "axis": null}, "y2": {"field": "h"}, "color": {"field": "s", "type": "nominal", "scale": {"domain": ["Cancer","Capricorn","SNMF","ALS","ALSR","SVD","ALSR5"], "range": ["#ff0000","#00ffff","#0000ff","#00ee00","#ff00ff","#000000","#b8860b"]}, "legend": null}}},
  {"mark": {"type": "tick", "orient": "horizontal", "size": 6, "thickness": 1, "clip": true, "opacity": 0.7}, "encoding": {"x": {"field": "x", "type": "quantitative", "axis": null}, "y": {"field": "l", "type": "quantitative", "axis": null}, "color": {"field": "s", "type": "nominal", "legend": null}}},
  {"mark": {"type": "tick", "orient": "horizontal", "size": 6, "thickness": 1, "clip": true, "opacity": 0.7}, "encoding": {"x": {"field": "x", "type": "quantitative", "axis": null}, "y": {"field": "h", "type": "quantitative", "axis": null}, "color": {"field": "s", "type": "nominal", "legend": null}}},
  {"mark": {"type": "line", "clip": true, "strokeWidth": 1}, "encoding": {"x": {"field": "x", "type": "quantitative", "axis": {"title": "Factor density", "values": [0.1, 0.3, 0.5, 0.7, 0.9], "format": "~g"}}, "y": {"field": "y", "type": "quantitative", "axis": {"title": "Frobenius error", "values": [0, 0.2, 0.4, 0.6, 0.8, 1], "format": "~g"}}, "color": {"field": "s", "type": "nominal", "legend": null}}},
  {"mark": {"type": "point", "shape": "M-1,-1L1,1M-1,1L1,-1", "size": 30, "filled": false, "strokeWidth": 1, "opacity": 1, "clip": true}, "encoding": {"x": {"field": "x", "type": "quantitative", "axis": {"orient": "top", "title": null, "labels": false, "values": [0.1, 0.3, 0.5, 0.7, 0.9]}}, "y": {"field": "y", "type": "quantitative", "axis": {"orient": "right", "title": null, "labels": false, "values": [0, 0.2, 0.4, 0.6, 0.8, 1]}}, "color": {"field": "s", "type": "nominal", "legend": null}}}
 ]},
{"width": 237.3, "height": 181, "data": {"name": "C"},
 "title": {"text": ["(c) \u00a0\u00a0\u00a0Varying \u00a0\u00a0density \u00a0\u00a0with", "high Gaussian noise"], "dx": -49, "offset": 15.5},
 "resolve": {"axis": {"x": "independent", "y": "independent"}},
 "layer": [
  {"mark": {"type": "rule", "clip": true, "opacity": 0.7, "strokeWidth": 1}, "encoding": {"x": {"field": "x", "type": "quantitative", "scale": {"domain": [0.08, 1.026], "nice": false, "zero": false}, "axis": null}, "y": {"field": "l", "type": "quantitative", "scale": {"domain": [0.048, 1.005], "nice": false, "zero": false}, "axis": null}, "y2": {"field": "h"}, "color": {"field": "s", "type": "nominal", "scale": {"domain": ["Cancer","Capricorn","SNMF","ALS","ALSR","SVD","ALSR5"], "range": ["#ff0000","#00ffff","#0000ff","#00ee00","#ff00ff","#000000","#b8860b"]}, "legend": null}}},
  {"mark": {"type": "tick", "orient": "horizontal", "size": 6, "thickness": 1, "clip": true, "opacity": 0.7}, "encoding": {"x": {"field": "x", "type": "quantitative", "axis": null}, "y": {"field": "l", "type": "quantitative", "axis": null}, "color": {"field": "s", "type": "nominal", "legend": null}}},
  {"mark": {"type": "tick", "orient": "horizontal", "size": 6, "thickness": 1, "clip": true, "opacity": 0.7}, "encoding": {"x": {"field": "x", "type": "quantitative", "axis": null}, "y": {"field": "h", "type": "quantitative", "axis": null}, "color": {"field": "s", "type": "nominal", "legend": null}}},
  {"mark": {"type": "line", "clip": true, "strokeWidth": 1}, "encoding": {"x": {"field": "x", "type": "quantitative", "axis": {"title": "Factor density", "values": [0.1, 0.3, 0.5, 0.7, 0.9], "format": "~g"}}, "y": {"field": "y", "type": "quantitative", "axis": {"title": "Frobenius error", "values": [0.2, 0.4, 0.6, 0.8, 1], "format": "~g"}}, "color": {"field": "s", "type": "nominal", "legend": null}}},
  {"mark": {"type": "point", "shape": "M-1,-1L1,1M-1,1L1,-1", "size": 30, "filled": false, "strokeWidth": 1, "opacity": 1, "clip": true}, "encoding": {"x": {"field": "x", "type": "quantitative", "axis": {"orient": "top", "title": null, "labels": false, "values": [0.1, 0.3, 0.5, 0.7, 0.9]}}, "y": {"field": "y", "type": "quantitative", "axis": {"orient": "right", "title": null, "labels": false, "values": [0.2, 0.4, 0.6, 0.8, 1]}}, "color": {"field": "s", "type": "nominal", "legend": null}}}
 ]}
], "spacing": 56, "bounds": "flush", "resolve": {"scale": {"color": "independent"}, "legend": {"color": "independent"}}},
{"hconcat": [
{"width": 241.6, "height": 180, "data": {"name": "D"},
 "title": {"text": ["(d) \u00a0Varying \u00a0rank; \u00a050% \u00a0den-", "sity \u00a0\u00a0\u00a0\u00a0and \u00a0\u00a0\u00a0\u00a0low \u00a0\u00a0\u00a0\u00a0Gaussian", "noise"], "dx": -43.7, "offset": 14.5},
 "resolve": {"axis": {"x": "independent", "y": "independent"}},
 "layer": [
  {"mark": {"type": "rule", "clip": true, "opacity": 0.7, "strokeWidth": 1}, "encoding": {"x": {"field": "x", "type": "quantitative", "scale": {"domain": [1.48, 20.55], "nice": false, "zero": false}, "axis": null}, "y": {"field": "l", "type": "quantitative", "scale": {"domain": [-0.062, 0.946], "nice": false, "zero": false}, "axis": null}, "y2": {"field": "h"}, "color": {"field": "s", "type": "nominal", "scale": {"domain": ["Cancer","Capricorn","SNMF","ALS","ALSR","SVD","ALSR5"], "range": ["#ff0000","#00ffff","#0000ff","#00ee00","#ff00ff","#000000","#b8860b"]}, "legend": null}}},
  {"mark": {"type": "tick", "orient": "horizontal", "size": 6, "thickness": 1, "clip": true, "opacity": 0.7}, "encoding": {"x": {"field": "x", "type": "quantitative", "axis": null}, "y": {"field": "l", "type": "quantitative", "axis": null}, "color": {"field": "s", "type": "nominal", "legend": null}}},
  {"mark": {"type": "tick", "orient": "horizontal", "size": 6, "thickness": 1, "clip": true, "opacity": 0.7}, "encoding": {"x": {"field": "x", "type": "quantitative", "axis": null}, "y": {"field": "h", "type": "quantitative", "axis": null}, "color": {"field": "s", "type": "nominal", "legend": null}}},
  {"mark": {"type": "line", "clip": true, "strokeWidth": 1}, "encoding": {"x": {"field": "x", "type": "quantitative", "axis": {"title": "k", "values": [2, 6, 10, 14, 18], "format": "~g"}}, "y": {"field": "y", "type": "quantitative", "axis": {"title": "Frobenius error", "values": [0, 0.2, 0.4, 0.6, 0.8], "format": "~g"}}, "color": {"field": "s", "type": "nominal", "legend": null}}},
  {"mark": {"type": "point", "shape": "M-1,-1L1,1M-1,1L1,-1", "size": 30, "filled": false, "strokeWidth": 1, "opacity": 1, "clip": true}, "encoding": {"x": {"field": "x", "type": "quantitative", "axis": {"orient": "top", "title": null, "labels": false, "values": [2, 6, 10, 14, 18]}}, "y": {"field": "y", "type": "quantitative", "axis": {"orient": "right", "title": null, "labels": false, "values": [0, 0.2, 0.4, 0.6, 0.8]}}, "color": {"field": "s", "type": "nominal", "legend": null}}}
 ]},
{"width": 229.5, "height": 180, "data": {"name": "E"},
 "title": {"text": ["(e) \u00a0Varying \u00a0\u00a0tropical \u00a0noise", "with density 50%"], "dx": -47.8, "offset": 14.5},
 "resolve": {"axis": {"x": "independent", "y": "independent"}},
 "layer": [
  {"mark": {"type": "rule", "clip": true, "opacity": 0.7, "strokeWidth": 1}, "encoding": {"x": {"field": "x", "type": "quantitative", "scale": {"domain": [-0.001, 0.142], "nice": false, "zero": false}, "axis": null}, "y": {"field": "l", "type": "quantitative", "scale": {"domain": [-0.029, 0.253], "nice": false, "zero": false}, "axis": null}, "y2": {"field": "h"}, "color": {"field": "s", "type": "nominal", "scale": {"domain": ["Cancer","Capricorn","SNMF","ALS","ALSR","SVD","ALSR5"], "range": ["#ff0000","#00ffff","#0000ff","#00ee00","#ff00ff","#000000","#b8860b"]}, "legend": null}}},
  {"mark": {"type": "tick", "orient": "horizontal", "size": 6, "thickness": 1, "clip": true, "opacity": 0.7}, "encoding": {"x": {"field": "x", "type": "quantitative", "axis": null}, "y": {"field": "l", "type": "quantitative", "axis": null}, "color": {"field": "s", "type": "nominal", "legend": null}}},
  {"mark": {"type": "tick", "orient": "horizontal", "size": 6, "thickness": 1, "clip": true, "opacity": 0.7}, "encoding": {"x": {"field": "x", "type": "quantitative", "axis": null}, "y": {"field": "h", "type": "quantitative", "axis": null}, "color": {"field": "s", "type": "nominal", "legend": null}}},
  {"mark": {"type": "line", "clip": true, "strokeWidth": 1}, "encoding": {"x": {"field": "x", "type": "quantitative", "axis": {"title": "Noise", "values": [0, 0.03, 0.06, 0.09, 0.12], "format": "~g"}}, "y": {"field": "y", "type": "quantitative", "axis": {"title": "Frobenius error", "values": [0, 0.05, 0.1, 0.15, 0.2, 0.25], "format": "~g"}}, "color": {"field": "s", "type": "nominal", "legend": null}}},
  {"mark": {"type": "point", "shape": "M-1,-1L1,1M-1,1L1,-1", "size": 30, "filled": false, "strokeWidth": 1, "opacity": 1, "clip": true}, "encoding": {"x": {"field": "x", "type": "quantitative", "axis": {"orient": "top", "title": null, "labels": false, "values": [0, 0.03, 0.06, 0.09, 0.12]}}, "y": {"field": "y", "type": "quantitative", "axis": {"orient": "right", "title": null, "labels": false, "values": [0, 0.05, 0.1, 0.15, 0.2, 0.25]}}, "color": {"field": "s", "type": "nominal", "legend": null}}}
 ]},
{"width": 231.5, "height": 180, "data": {"name": "F"},
 "title": {"text": ["(f) \u00a0\u00a0Varying \u00a0\u00a0\u00a0tropical \u00a0\u00a0noise", "with density 90%"], "dx": -62, "offset": 14.5},
 "resolve": {"axis": {"x": "independent", "y": "independent"}},
 "layer": [
  {"mark": {"type": "rule", "clip": true, "opacity": 0.7, "strokeWidth": 1}, "encoding": {"x": {"field": "x", "type": "quantitative", "scale": {"domain": [-0.0038, 0.142], "nice": false, "zero": false}, "axis": null}, "y": {"field": "l", "type": "quantitative", "scale": {"domain": [0.001, 0.204], "nice": false, "zero": false}, "axis": null}, "y2": {"field": "h"}, "color": {"field": "s", "type": "nominal", "scale": {"domain": ["Cancer","Capricorn","SNMF","ALS","ALSR","SVD","ALSR5"], "range": ["#ff0000","#00ffff","#0000ff","#00ee00","#ff00ff","#000000","#b8860b"]}, "legend": null}}},
  {"mark": {"type": "tick", "orient": "horizontal", "size": 6, "thickness": 1, "clip": true, "opacity": 0.7}, "encoding": {"x": {"field": "x", "type": "quantitative", "axis": null}, "y": {"field": "l", "type": "quantitative", "axis": null}, "color": {"field": "s", "type": "nominal", "legend": null}}},
  {"mark": {"type": "tick", "orient": "horizontal", "size": 6, "thickness": 1, "clip": true, "opacity": 0.7}, "encoding": {"x": {"field": "x", "type": "quantitative", "axis": null}, "y": {"field": "h", "type": "quantitative", "axis": null}, "color": {"field": "s", "type": "nominal", "legend": null}}},
  {"mark": {"type": "line", "clip": true, "strokeWidth": 1}, "encoding": {"x": {"field": "x", "type": "quantitative", "axis": {"title": "Noise", "values": [0, 0.03, 0.06, 0.09, 0.12], "format": "~g"}}, "y": {"field": "y", "type": "quantitative", "axis": {"title": "Frobenius error", "values": [0.05, 0.1, 0.15, 0.2], "format": "~g"}}, "color": {"field": "s", "type": "nominal", "legend": null}}},
  {"mark": {"type": "point", "shape": "M-1,-1L1,1M-1,1L1,-1", "size": 30, "filled": false, "strokeWidth": 1, "opacity": 1, "clip": true}, "encoding": {"x": {"field": "x", "type": "quantitative", "axis": {"orient": "top", "title": null, "labels": false, "values": [0, 0.03, 0.06, 0.09, 0.12]}}, "y": {"field": "y", "type": "quantitative", "axis": {"orient": "right", "title": null, "labels": false, "values": [0.05, 0.1, 0.15, 0.2]}}, "color": {"field": "s", "type": "nominal", "legend": null}}}
 ]}
], "spacing": 61.5, "bounds": "flush", "resolve": {"scale": {"color": "independent"}, "legend": {"color": "independent"}}}
],
"config": {
 "view": {"stroke": "#555555", "strokeWidth": 1},
 "axis": {"grid": false, "domain": false, "labelFont": "Liberation Sans", "labelFontSize": 11, "labelColor": "#333333", "titleFont": "Liberation Serif", "titleFontSize": 12, "titleFontWeight": "normal", "titleColor": "#333333", "tickColor": "#777777", "tickSize": -4, "labelPadding": 8, "labelFlush": false, "labelOverlap": false, "labelBound": false},
 "axisY": {"titlePadding": 9},
 "axisX": {"titlePadding": 2},
 "title": {"orient": "bottom", "anchor": "start", "frame": "group", "font": "DejaVu Serif", "fontSize": 19.5, "fontWeight": "normal", "color": "black", "baseline": "top", "lineHeight": 29.5}
}
}
